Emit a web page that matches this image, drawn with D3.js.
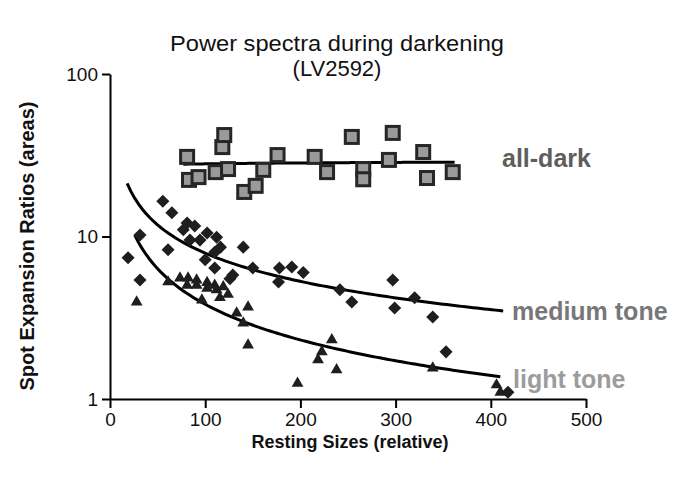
<!DOCTYPE html>
<html><head><meta charset="utf-8">
<script src="https://cdn.jsdelivr.net/npm/d3@7"></script>
<style>body{margin:0;background:#fff}svg{display:block;font-family:"Liberation Sans",Arial,sans-serif}</style>
</head><body><svg id="c" width="692" height="477"></svg>
<script>
// ---- data ----
const allDarkX = [81,83,93,111,118,120,124,141,153,161,176,215,228,254,266,266,293,297,329,333,360];
const allDarkY = [30.9,22.3,23.2,24.9,35.5,42.1,26,18.8,20.5,25.7,31.7,30.9,24.9,41,26,22.5,29.6,43.4,33.1,22.9,24.9];
const mediumX = [19,31.5,31.5,55.5,61,65,77,81,84,89,94.5,100,102,110,110,112,116,126,129,140,150,178,177,191,203,241.5,254,297,299,320,339,353,418];
const mediumY = [7.4,10.2,5.4,16.5,8.3,14,11,12.1,9.5,11.6,9.5,7.2,10.5,8,6.4,9.9,8.6,5.5,5.8,8.6,6.4,6.4,5.25,6.5,6,4.7,3.95,5.4,3.63,4.2,3.2,1.95,1.1];
const lightX = [28,61,73.5,81,82,91,91,96.5,102,102,110,112,115.5,119,124,133,140,145,145,197,218.5,222.5,233,238,339,406,410];
const lightY = [3.95,5.25,5.55,5.0,5.55,5.4,5.0,4.06,5.2,4.8,5.0,4.7,4.2,4.9,4.4,3.38,2.93,3.68,2.15,1.25,1.74,1.95,2.31,1.51,1.55,1.22,1.1];
// power-law trendlines y = a * x^b
const trendNames = ["all-dark","medium tone","light tone"];
const trendA = [25.7,112.6,109.3];
const trendB = [0.0186,-0.577,-0.728];
const trendFrom = [77,18,26];
const trendTo = [362,413,410];
const xTicks = [0,100,200,300,400,500];
const yTicks = [1,10,100];
const titleLines = ["Power spectra during darkening","(LV2592)"];
const xTitle = "Resting Sizes (relative)";
const yTitle = "Spot Expansion Ratios (areas)";

// ---- layout ----
const svg = d3.select("#c");
const L = 110, R = 586, T = 74, B = 399;
const x = d3.scaleLinear().domain([0,500]).range([L,R]);
const y = d3.scaleLog().domain([1,100]).range([B,T]);

// title
svg.append("g").selectAll("text").data(titleLines).join("text")
  .attr("x",337).attr("y",(d,i)=>51+i*25).attr("text-anchor","middle")
  .attr("font-size",22).attr("fill","#111").text(d=>d)
  .each(function(d,i){ if(i===0) d3.select(this).attr("textLength",334).attr("lengthAdjust","spacingAndGlyphs"); });

// axes
const xa = svg.append("g").attr("transform",`translate(0,${B})`)
  .call(d3.axisBottom(x).tickValues(xTicks).tickSize(9).tickPadding(4).tickSizeOuter(0));
const ya = svg.append("g").attr("transform",`translate(${L},0)`)
  .call(d3.axisLeft(y).tickValues(yTicks).tickFormat(d3.format("d")).tickSize(8).tickPadding(4).tickSizeOuter(0));
[xa,ya].forEach(g=>{
  g.select(".domain").attr("stroke","#000").attr("stroke-width",2);
  g.selectAll(".tick line").attr("stroke","#000").attr("stroke-width",2);
  g.selectAll(".tick text").attr("font-size",19).attr("fill","#111").attr("font-family","Liberation Sans, Arial, sans-serif");
});
xa.selectAll(".tick text").attr("dy","0.75em");

svg.append("text").attr("x",350).attr("y",448).attr("text-anchor","middle")
  .attr("font-size",18).attr("font-weight","bold").attr("fill","#111").text(xTitle);
svg.append("text").attr("transform","translate(34,246) rotate(-90)").attr("text-anchor","middle")
  .attr("font-size",20).attr("font-weight","bold").attr("fill","#111").text(yTitle);

// trend lines
const line = d3.line().x(d=>x(d[0])).y(d=>y(d[1])).curve(d3.curveLinear);
trendNames.forEach((n,i)=>{
  const pts = d3.range(0,101).map(k=>{const xv=trendFrom[i]+(trendTo[i]-trendFrom[i])*k/100; return [xv, trendA[i]*Math.pow(xv,trendB[i])];});
  svg.append("path").datum(pts).attr("d",line).attr("fill","none").attr("stroke","#000").attr("stroke-width",3);
});

// markers
const tri = d3.symbol().type(d3.symbolTriangle).size(60);
svg.append("g").selectAll("path").data(lightX.map((v,i)=>[v,lightY[i]])).join("path")
  .attr("d",tri).attr("transform",d=>`translate(${x(d[0])},${y(d[1])})`).attr("fill","#1e1e1e");
const dia = d3.symbol().type(d3.symbolSquare).size(85);
svg.append("g").selectAll("path").data(mediumX.map((v,i)=>[v,mediumY[i]])).join("path")
  .attr("d",dia).attr("transform",d=>`translate(${x(d[0])},${y(d[1])}) rotate(45)`).attr("fill","#1e1e1e");
svg.append("g").selectAll("rect").data(allDarkX.map((v,i)=>[v,allDarkY[i]])).join("rect")
  .attr("x",d=>x(d[0])-6.5).attr("y",d=>y(d[1])-6.5).attr("width",13).attr("height",13)
  .attr("fill","#9a9a9a").attr("stroke","#262626").attr("stroke-width",3);

// series labels
const labColors = ["#5e5e5e","#777777","#9c9c9c"];
const labX = [502,512,513];
const labY = [30.5,3.45,1.33];
svg.append("g").selectAll("text").data(trendNames).join("text")
  .attr("x",(d,i)=>labX[i]).attr("y",(d,i)=>y(labY[i])).attr("dy","0.35em")
  .attr("font-size",25).attr("font-weight","bold").attr("fill",(d,i)=>labColors[i]).text(d=>d);
</script></body></html>
